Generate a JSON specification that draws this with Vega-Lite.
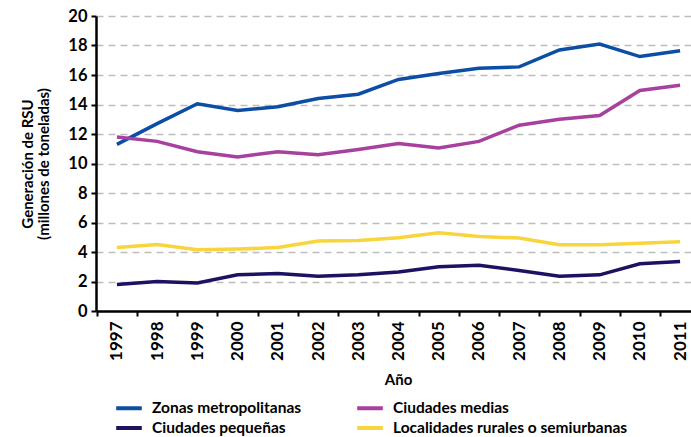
{
  "$schema": "https://vega.github.io/schema/vega-lite/v6.json",
  "width": 605,
  "height": 295,
  "autosize": {"type": "none"},
  "padding": {"left": 96, "top": 16, "right": 0, "bottom": 126},
  "background": "white",
  "config": {
    "view": {"stroke": null},
    "font": "Lato"
  },
  "data": {
    "values": [
      {"year": "1997", "serie": "Zonas metropolitanas", "v": 11.3},
      {"year": "1998", "serie": "Zonas metropolitanas", "v": 12.7},
      {"year": "1999", "serie": "Zonas metropolitanas", "v": 14.05},
      {"year": "2000", "serie": "Zonas metropolitanas", "v": 13.6},
      {"year": "2001", "serie": "Zonas metropolitanas", "v": 13.85},
      {"year": "2002", "serie": "Zonas metropolitanas", "v": 14.4},
      {"year": "2003", "serie": "Zonas metropolitanas", "v": 14.7},
      {"year": "2004", "serie": "Zonas metropolitanas", "v": 15.7},
      {"year": "2005", "serie": "Zonas metropolitanas", "v": 16.1},
      {"year": "2006", "serie": "Zonas metropolitanas", "v": 16.45},
      {"year": "2007", "serie": "Zonas metropolitanas", "v": 16.55},
      {"year": "2008", "serie": "Zonas metropolitanas", "v": 17.7},
      {"year": "2009", "serie": "Zonas metropolitanas", "v": 18.1},
      {"year": "2010", "serie": "Zonas metropolitanas", "v": 17.25},
      {"year": "2011", "serie": "Zonas metropolitanas", "v": 17.65},
      {"year": "1997", "serie": "Ciudades medias", "v": 11.8},
      {"year": "1998", "serie": "Ciudades medias", "v": 11.5},
      {"year": "1999", "serie": "Ciudades medias", "v": 10.8},
      {"year": "2000", "serie": "Ciudades medias", "v": 10.45},
      {"year": "2001", "serie": "Ciudades medias", "v": 10.8},
      {"year": "2002", "serie": "Ciudades medias", "v": 10.6},
      {"year": "2003", "serie": "Ciudades medias", "v": 10.95},
      {"year": "2004", "serie": "Ciudades medias", "v": 11.35},
      {"year": "2005", "serie": "Ciudades medias", "v": 11.05},
      {"year": "2006", "serie": "Ciudades medias", "v": 11.5},
      {"year": "2007", "serie": "Ciudades medias", "v": 12.6},
      {"year": "2008", "serie": "Ciudades medias", "v": 13.0},
      {"year": "2009", "serie": "Ciudades medias", "v": 13.25},
      {"year": "2010", "serie": "Ciudades medias", "v": 14.95},
      {"year": "2011", "serie": "Ciudades medias", "v": 15.3},
      {"year": "1997", "serie": "Ciudades pequeñas", "v": 1.8},
      {"year": "1998", "serie": "Ciudades pequeñas", "v": 2.0},
      {"year": "1999", "serie": "Ciudades pequeñas", "v": 1.9},
      {"year": "2000", "serie": "Ciudades pequeñas", "v": 2.45},
      {"year": "2001", "serie": "Ciudades pequeñas", "v": 2.55},
      {"year": "2002", "serie": "Ciudades pequeñas", "v": 2.35},
      {"year": "2003", "serie": "Ciudades pequeñas", "v": 2.45},
      {"year": "2004", "serie": "Ciudades pequeñas", "v": 2.65},
      {"year": "2005", "serie": "Ciudades pequeñas", "v": 3.0},
      {"year": "2006", "serie": "Ciudades pequeñas", "v": 3.1},
      {"year": "2007", "serie": "Ciudades pequeñas", "v": 2.75},
      {"year": "2008", "serie": "Ciudades pequeñas", "v": 2.35},
      {"year": "2009", "serie": "Ciudades pequeñas", "v": 2.45},
      {"year": "2010", "serie": "Ciudades pequeñas", "v": 3.2},
      {"year": "2011", "serie": "Ciudades pequeñas", "v": 3.35},
      {"year": "1997", "serie": "Localidades rurales o semiurbanas", "v": 4.3},
      {"year": "1998", "serie": "Localidades rurales o semiurbanas", "v": 4.5},
      {"year": "1999", "serie": "Localidades rurales o semiurbanas", "v": 4.15},
      {"year": "2000", "serie": "Localidades rurales o semiurbanas", "v": 4.2},
      {"year": "2001", "serie": "Localidades rurales o semiurbanas", "v": 4.3},
      {"year": "2002", "serie": "Localidades rurales o semiurbanas", "v": 4.75},
      {"year": "2003", "serie": "Localidades rurales o semiurbanas", "v": 4.78},
      {"year": "2004", "serie": "Localidades rurales o semiurbanas", "v": 4.97},
      {"year": "2005", "serie": "Localidades rurales o semiurbanas", "v": 5.3},
      {"year": "2006", "serie": "Localidades rurales o semiurbanas", "v": 5.05},
      {"year": "2007", "serie": "Localidades rurales o semiurbanas", "v": 4.95},
      {"year": "2008", "serie": "Localidades rurales o semiurbanas", "v": 4.5},
      {"year": "2009", "serie": "Localidades rurales o semiurbanas", "v": 4.5},
      {"year": "2010", "serie": "Localidades rurales o semiurbanas", "v": 4.6},
      {"year": "2011", "serie": "Localidades rurales o semiurbanas", "v": 4.7}
    ]
  },
  "mark": {"type": "line", "strokeWidth": 3.5},
  "encoding": {
    "x": {
      "field": "year",
      "type": "ordinal",
      "scale": {"type": "band", "paddingInner": 0, "paddingOuter": 0.02},
      "axis": {
        "title": "Año",
        "titleFontSize": 15,
        "titleFontWeight": "bold",
        "titleColor": "black",
        "titlePadding": 12,
        "titleX": 302,
        "labelAngle": -90,
        "labelFontSize": 17,
        "labelFontWeight": "bold",
        "labelColor": "black",
        "labelPadding": 5,
        "tickBand": "extent",
        "tickSize": 5,
        "tickWidth": 2,
        "tickColor": "black",
        "domainColor": "black",
        "domainWidth": 2.5,
        "grid": false
      }
    },
    "y": {
      "field": "v",
      "type": "quantitative",
      "scale": {"domain": [0, 20], "nice": false},
      "axis": {
        "title": ["Generación de RSU", "(millones de toneladas)"],
        "titleFontSize": 15,
        "titleFontWeight": "bold",
        "titleColor": "black",
        "titlePadding": 16,
        "titleLineHeight": 16,
        "values": [0, 2, 4, 6, 8, 10, 12, 14, 16, 18, 20],
        "labelFontSize": 16.5,
        "labelFontWeight": "bold",
        "labelColor": "black",
        "labelPadding": 4,
        "tickSize": 5,
        "tickWidth": 2,
        "tickColor": "black",
        "domainColor": "black",
        "domainWidth": 2.5,
        "grid": true,
        "gridColor": "#bdbdbd",
        "gridDash": [7, 5],
        "gridWidth": 1.5
      }
    },
    "color": {
      "field": "serie",
      "type": "nominal",
      "scale": {
        "domain": ["Zonas metropolitanas", "Ciudades medias", "Ciudades pequeñas", "Localidades rurales o semiurbanas"],
        "range": ["#0c4ea3", "#a8409e", "#1b1361", "#f8d53c"]
      },
      "legend": {
        "title": null,
        "orient": "none",
        "direction": "horizontal",
        "legendX": 23,
        "legendY": 382,
        "columns": 2,
        "columnPadding": 47,
        "rowPadding": 1,
        "symbolType": "M-1.6,0H1.6",
        "symbolSize": 256,
        "symbolStrokeWidth": 4,
        "labelFontSize": 15.5,
        "labelFontWeight": "bold",
        "labelColor": "black",
        "labelOffset": 13,
        "labelLimit": 400
      }
    }
  }
}
